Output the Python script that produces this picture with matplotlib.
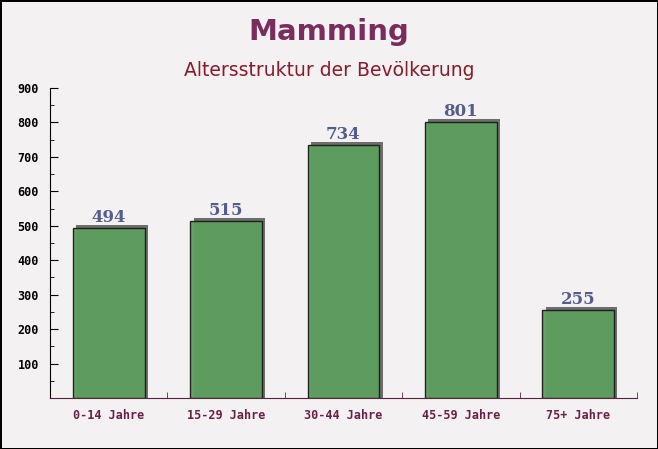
import matplotlib
matplotlib.use("Agg")
import matplotlib.pyplot as plt
from matplotlib.ticker import MultipleLocator, FixedLocator

categories = ["0-14 Jahre", "15-29 Jahre", "30-44 Jahre", "45-59 Jahre", "75+ Jahre"]
values = [494, 515, 734, 801, 255]
yticks = [100, 200, 300, 400, 500, 600, 700, 800, 900]

fig = plt.figure(figsize=(6.58, 4.49), dpi=100)
fig.patch.set_facecolor("#f4f1f2")
fig.patch.set_edgecolor("black")
fig.patch.set_linewidth(1.0)

ax = fig.add_axes([0.076, 0.1136, 0.892, 0.6904])
ax.set_facecolor("none")

x = list(range(len(categories)))
w = 0.61
# shadow
ax.bar([i + 0.028 for i in x], [v + 9 for v in values], width=w, color="#6e6e6e", zorder=2)
ax.bar(x, values, width=w, color="#5e9e5e", edgecolor="#1a1a1a", linewidth=1.0, alpha=0.95, zorder=3)

for i, v in enumerate(values):
    ax.text(i, v + 6, str(v), ha="center", va="bottom", fontsize=12, fontweight="bold",
            family="DejaVu Serif", color="#545d8c", zorder=4)

ax.set_xlim(-0.5, len(categories) - 0.5)
ax.set_ylim(0, 900)
ax.set_xticks(x)
ax.set_xticklabels(categories, family="DejaVu Sans Mono", fontsize=8.5, fontweight="bold", color="#6b2048")
ax.xaxis.set_minor_locator(FixedLocator([i + 0.5 for i in x]))
ax.set_yticks(yticks)
ax.set_yticklabels([str(t) for t in yticks], family="DejaVu Sans Mono", fontsize=8.5, fontweight="bold", color="black")
ax.yaxis.set_minor_locator(MultipleLocator(50))

ax.tick_params(axis="x", which="major", length=0, pad=8)
ax.tick_params(axis="x", which="minor", direction="in", length=4, color="#6b2048")
ax.tick_params(axis="y", which="major", direction="in", length=6, pad=8)
ax.tick_params(axis="y", which="minor", direction="in", length=3)

for s in ["top", "right"]:
    ax.spines[s].set_visible(False)
ax.spines["left"].set_color("black")
ax.spines["bottom"].set_color("#5a2040")

fig.text(0.5, 0.928, "Mamming", ha="center", va="center", fontsize=21, fontweight="bold", color="#7a2d5c")
fig.text(0.5, 0.843, "Altersstruktur der Bevölkerung", ha="center", va="center", fontsize=13.5, color="#8b1a2a")

fig.savefig("out.png", dpi=100, facecolor=fig.get_facecolor(), edgecolor=fig.get_edgecolor())
